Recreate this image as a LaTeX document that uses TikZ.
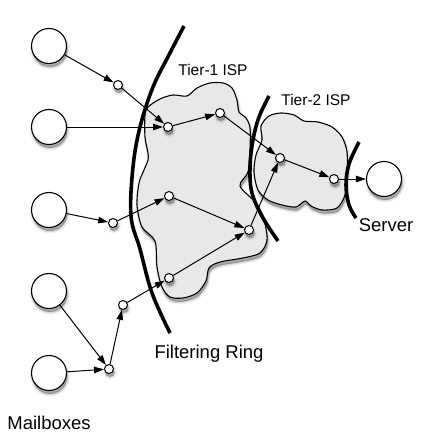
\documentclass[tikz,border=0pt]{standalone}
\usepackage{fontspec}
\setmainfont{Liberation Sans}
\usetikzlibrary{arrows.meta}
\definecolor{cloudfill}{RGB}{232,232,232}
\begin{document}
\begin{tikzpicture}[x=1pt,y=-1pt,
  shad/.style={
    preaction={draw=black,line width=5pt,draw opacity=0.05,fill=black,fill opacity=0.05,transform canvas={xshift=1pt,yshift=-3.5pt}},
    preaction={draw=black,line width=2.5pt,draw opacity=0.1,fill=black,fill opacity=0.1,transform canvas={xshift=1pt,yshift=-3.5pt}},
    preaction={fill=black,fill opacity=0.18,transform canvas={xshift=1pt,yshift=-3.5pt}}},
  big/.style={circle,draw,line width=1.1pt,fill=white,minimum size=35pt,inner sep=0pt,shad},
  small/.style={circle,draw,line width=1pt,fill=white,minimum size=9pt,inner sep=0pt,shad},
  flow/.style={draw,line width=1pt,-{Triangle[length=10pt,width=6.5pt]}},
  ringline/.style={draw,line width=3.6pt},
  cloudshape/.style={draw,line width=1.1pt,fill=cloudfill,shad},
  lab/.style={font=\fontsize{18.5}{22}\selectfont,anchor=base,inner sep=0pt},
  tlab/.style={font=\fontsize{15.5}{18}\selectfont,anchor=base,inner sep=0pt}]
\useasboundingbox (0,0) rectangle (432,433);

% Tier-1 cloud
\path[cloudshape] plot[smooth cycle,tension=0.5] coordinates {
 (148,107) (160,99) (173,95) (187,96) (197,88) (210,83) (223,83) (232,88) (237,100)
 (239,112) (246,118) (250,128) (250,150) (248,172) (240,186)
 (256,203) (264,220) (267,240) (260,253) (243,258) (220,262) (209,268)
 (206,281) (197,293) (183,298) (170,297) (162,287) (157,267) (155,241)
 (142,227) (137,205) (139,183) (144,170) (148,160)
 (148,153) (145,137) (145,115)};

% Tier-2 cloud
\path[cloudshape] plot[smooth cycle,tension=0.5] coordinates {
 (262,140) (261,126) (269,116) (281,113) (294,115) (304,121)
 (318,122) (332,127) (342,137) (347,152) (347,175) (345,195) (337,208) (322,210) (311,206)
 (305,201) (296,207) (282,205) (268,200) (258,190) (254,172) (256,155)};

% Filtering rings
\draw[ringline] plot[smooth,tension=0.6] coordinates {(184,26) (170,53) (153,87) (140,127) (133,167) (131,216) (140,249) (152,293) (170,333)};
\draw[ringline] plot[smooth,tension=0.6] coordinates {(269,96) (259,117) (253,140) (250,167) (252,193) (263,218) (278,241)};
\draw[ringline] plot[smooth,tension=0.6] coordinates {(359,142) (349,164) (346,185) (349,205) (356,218)};

% Mailboxes and server
\node[big] (m1) at (49,46) {};
\node[big] (m2) at (49,127) {};
\node[big] (m3) at (49,210) {};
\node[big] (m4) at (49,291) {};
\node[big] (m5) at (49,373) {};
\node[big] (srv) at (384,179) {};

% Routers
\node[small] (a1) at (118,85) {};
\node[small] (a3) at (113,223) {};
\node[small] (a4) at (123,305) {};
\node[small] (a5) at (109,369) {};
\node[small] (t1) at (168,127) {};
\node[small] (t2) at (220,113) {};
\node[small] (t3) at (169,196) {};
\node[small] (t4) at (249,230) {};
\node[small] (t5) at (169,278) {};
\node[small] (u1) at (280,158) {};
\node[small] (u2) at (334,179) {};

% Flows
\draw[flow] (m1) -- (a1);
\draw[flow] (a1) -- (t1);
\draw[flow] (m2) -- (t1);
\draw[flow] (t1) -- (t2);
\draw[flow] (t2) -- (u1);
\draw[flow] (m3) -- (a3);
\draw[flow] (a3) -- (t3);
\draw[flow] (t3) -- (t4);
\draw[flow] (t5) -- (t4);
\draw[flow] (t4) -- (u1);
\draw[flow] (m4) -- (a5);
\draw[flow] (m5) -- (a5);
\draw[flow] (a5) -- (a4);
\draw[flow] (a4) -- (t5);
\draw[flow] (u1) -- (u2);
\draw[flow] (u2) -- (srv);

% Labels
\node[tlab] (l1) at (213,76) {Tier-1 ISP};
\node[tlab] (l2) at (316,106) {Tier-2 ISP};
\node[lab] (l3) at (386,231) {Server};
\node[lab] (l4) at (209,358) {Filtering Ring};
\node[lab] (l5) at (49,429) {Mailboxes};
\end{tikzpicture}
\end{document}
